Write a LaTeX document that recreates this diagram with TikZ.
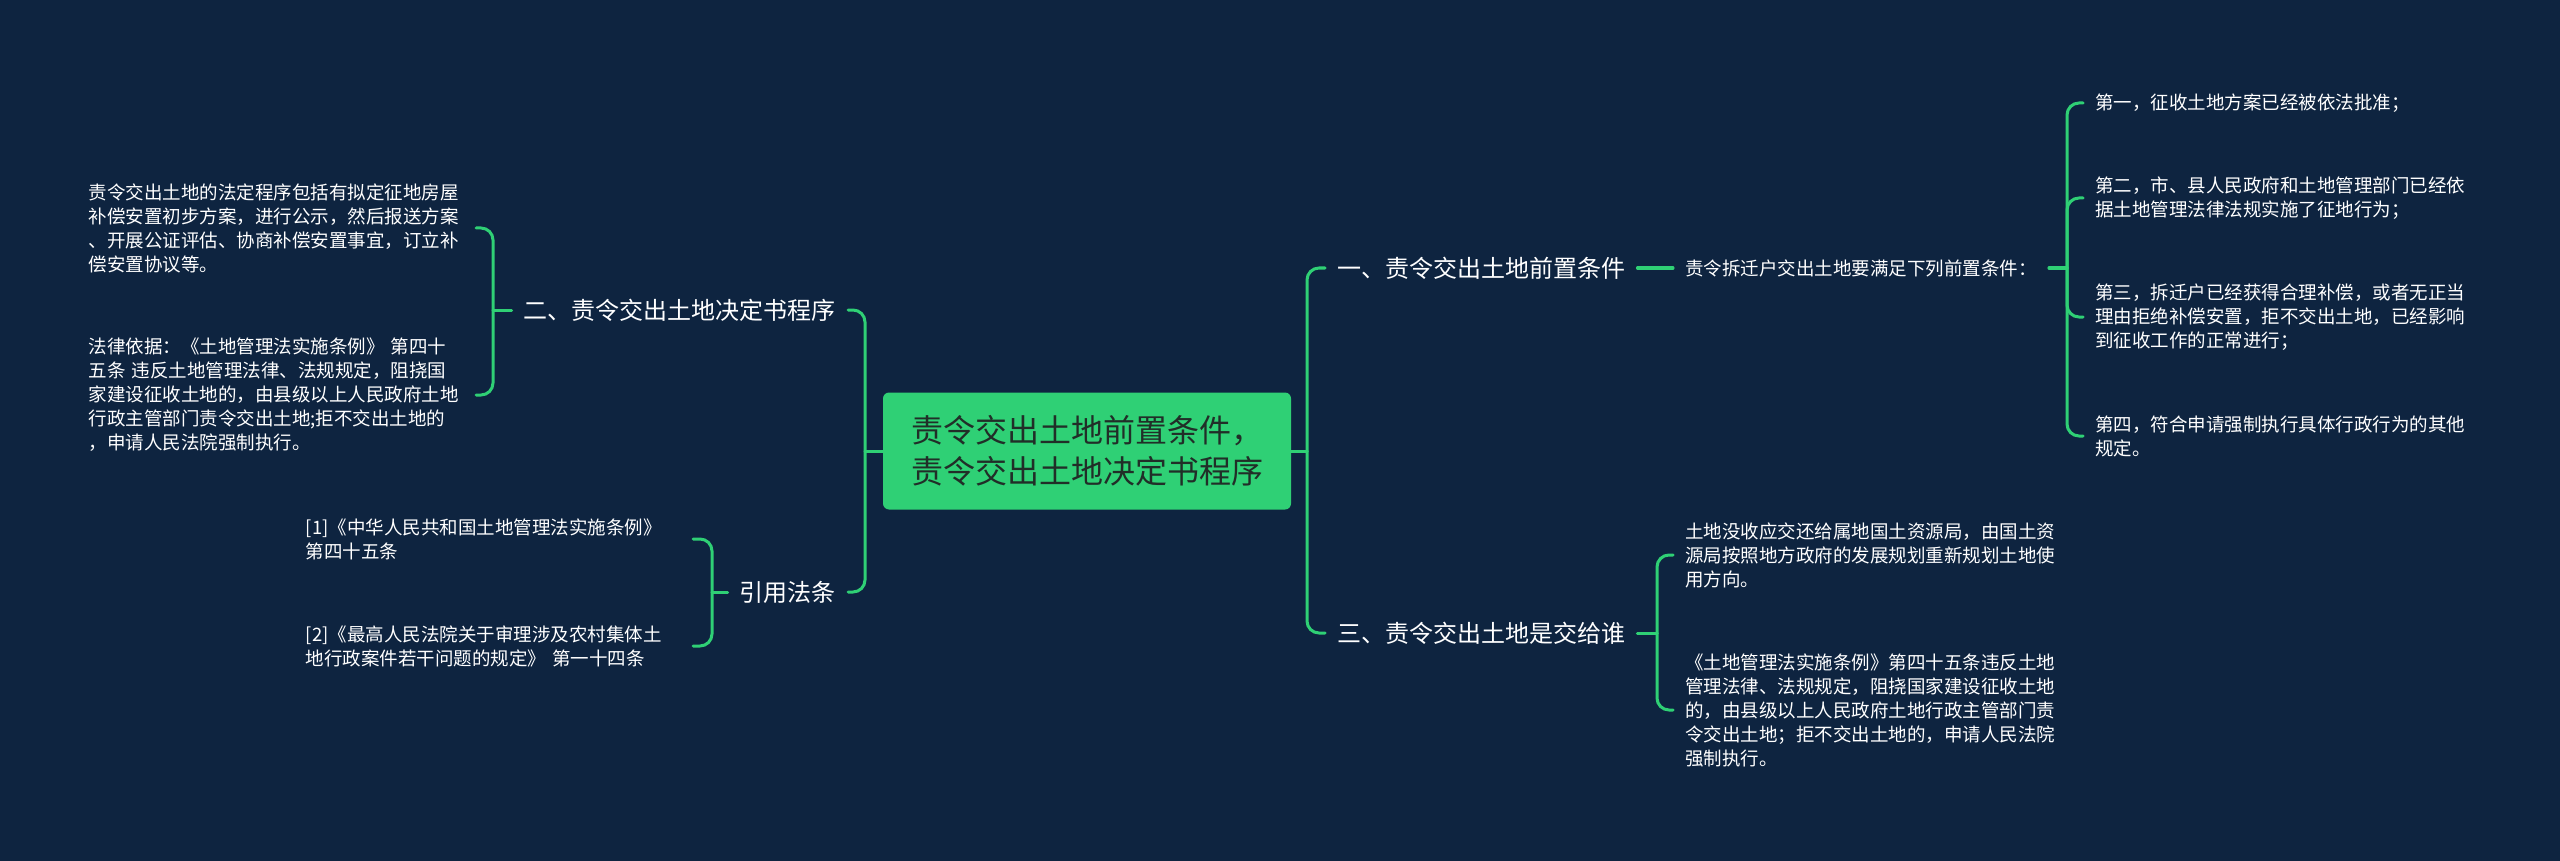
\documentclass[tikz,border=0pt]{standalone}
\usepackage{fontspec}
\setmainfont{Noto Sans CJK SC}
\usetikzlibrary{calc}

\definecolor{bgnavy}{RGB}{14,36,64}
\definecolor{mapgreen}{RGB}{47,208,117}
\definecolor{roottext}{RGB}{33,46,40}

\begin{document}
\begin{tikzpicture}[x=1pt,y=-1pt,
  link/.style={draw=mapgreen,line width=3pt,line cap=round,rounded corners=12pt},
  branch/.style={text=white,inner xsep=12pt,inner ysep=2pt,font=\fontsize{24}{30}\selectfont},
  leaftext/.style={text=white,inner xsep=12pt,inner ysep=2pt,font=\fontsize{18.5}{24}\selectfont},
  leaf/.style={leaftext,text width=375pt,align=left}]
\fill[bgnavy] (0,0) rectangle (2560,861);
\useasboundingbox (0,0) rectangle (2560,861);

% centre
\node[fill=mapgreen,rounded corners=6pt,minimum width=408pt,minimum height=117pt,inner sep=0pt,align=left,text=roottext,font=\fontsize{32}{41}\selectfont] (root) at (1087,451) {责令交出土地前置条件，\\责令交出土地决定书程序};

% right side
\node[branch,anchor=west] (b1) at (1325,268) {一、责令交出土地前置条件};
\node[branch,anchor=west] (b4) at (1325,633) {三、责令交出土地是交给谁};
\node[leaftext,anchor=west] (s1) at (1673,268) {责令拆迁户交出土地要满足下列前置条件：};
\node[leaf,anchor=west] (p1) at (2083,103) {第一，征收土地方案已经被依法批准；};
\node[leaf,anchor=west] (p2) at (2083,198) {第二，市、县人民政府和土地管理部门已经依\\据土地管理法律法规实施了征地行为；};
\node[leaf,anchor=west] (p3) at (2083,317) {第三，拆迁户已经获得合理补偿，或者无正当\\理由拒绝补偿安置，拒不交出土地，已经影响\\到征收工作的正常进行；};
\node[leaf,anchor=west] (p4) at (2083,436) {第四，符合申请强制执行具体行政行为的其他\\规定。};
\node[leaf,anchor=west] (t1) at (1673,555) {土地没收应交还给属地国土资源局，由国土资\\源局按照地方政府的发展规划重新规划土地使\\用方向。};
\node[leaf,anchor=west] (t2) at (1673,710) {《土地管理法实施条例》第四十五条违反土地\\管理法律、法规规定，阻挠国家建设征收土地\\的，由县级以上人民政府土地行政主管部门责\\令交出土地；拒不交出土地的，申请人民法院\\强制执行。};

% left side
\node[branch,anchor=east] (b2) at (848,310) {二、责令交出土地决定书程序};
\node[branch,anchor=east] (b3) at (848,592) {引用法条};
\node[leaf,anchor=east] (l1) at (476,228) {责令交出土地的法定程序包括有拟定征地房屋\\补偿安置初步方案，进行公示，然后报送方案\\、开展公证评估、协商补偿安置事宜，订立补\\偿安置协议等。};
\node[leaf,anchor=east] (l2) at (476,395) {法律依据：《土地管理法实施条例》 第四十\\五条 违反土地管理法律、法规规定，阻挠国\\家建设征收土地的，由县级以上人民政府土地\\行政主管部门责令交出土地;拒不交出土地的\\，申请人民法院强制执行。};
\node[leaf,anchor=east] (r1) at (693,539) {[1]《中华人民共和国土地管理法实施条例》\\第四十五条};
\node[leaf,anchor=east] (r2) at (693,646) {[2]《最高人民法院关于审理涉及农村集体土\\地行政案件若干问题的规定》 第一十四条};

% junctions
\coordinate (jR) at (1307,451);
\coordinate (jS) at (2067,268);
\coordinate (jT) at (1657,633);
\coordinate (jL) at (865,451);
\coordinate (jB) at (493,310);
\coordinate (jC) at (712,592);

\draw[link] (root.east) -- (jR);
\draw[link] (jR) |- (b1.west);
\draw[link] (jR) |- (b4.west);
\draw[link] (b1.east) -- (s1.west);
\draw[link] (s1.east) -- (jS);
\foreach \n in {p1,p2,p3,p4} \draw[link] (jS) |- (\n.west);
\draw[link] (b4.east) -- (jT);
\foreach \n in {t1,t2} \draw[link] (jT) |- (\n.west);

\draw[link] (root.west) -- (jL);
\draw[link] (jL) |- (b2.east);
\draw[link] (jL) |- (b3.east);
\draw[link] (b2.west) -- (jB);
\foreach \n in {l1,l2} \draw[link] (jB) |- (\n.east);
\draw[link] (b3.west) -- (jC);
\foreach \n in {r1,r2} \draw[link] (jC) |- (\n.east);
\end{tikzpicture}
\end{document}
